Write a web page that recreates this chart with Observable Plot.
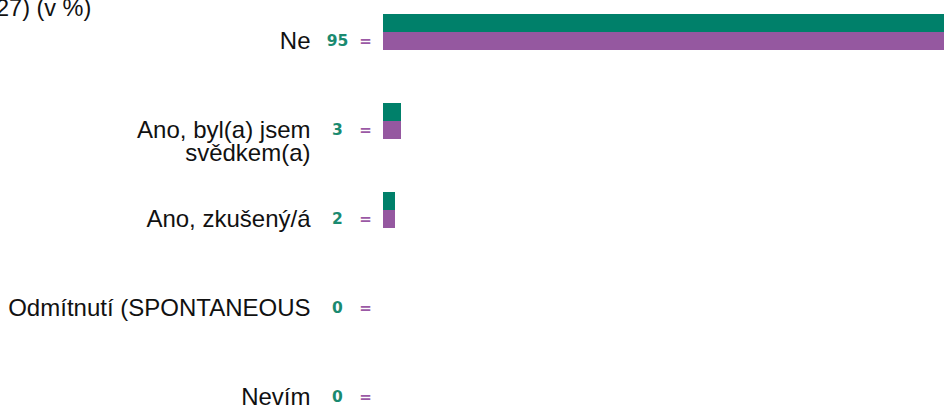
<!DOCTYPE html>
<html><head><meta charset="utf-8">
<script src="https://cdn.jsdelivr.net/npm/d3@7"></script>
<script src="https://cdn.jsdelivr.net/npm/@observablehq/plot@0.6"></script>
<style>
body{margin:0;background:#fff;overflow:hidden;}
#wrap{position:relative;width:944px;height:406px;overflow:hidden;}
#title{position:absolute;left:-4px;top:-5px;font:23.5px "Liberation Sans",Arial,sans-serif;color:#111;white-space:nowrap;z-index:2;}
</style></head><body><div id="wrap"><div id="title">27) (v %)</div></div>
<script>
const categories = ["Ne", "Ano, byl(a) jsem\nsvědkem(a)", "Ano, zkušený/á", "Odmítnutí (SPONTANEOUS", "Nevím"];
const current = [95, 3, 2, 0, 0];
const previous = [95, 3, 2, 0, 0];
const changes = ["=", "=", "=", "=", "="];

const rows = categories.map((c, i) => ({cat: c, cur: current[i], prev: previous[i], change: changes[i]}));

const chart = Plot.plot({
  width: 944, height: 406, margin: 0,
  style: {background: "transparent", overflow: "hidden"},
  x: {domain: [0, 93.5], range: [383, 944], axis: null},
  y: {type: "band", domain: categories, range: [0, 420], paddingInner: 0.7978, paddingOuter: 0.2584, align: 0.5, axis: null},
  marks: [
    Plot.barX(rows, {y: "cat", x: "cur", fill: "#00806a", dy: -9, clip: true}),
    Plot.barX(rows, {y: "cat", x: "prev", fill: "#9558a0", dy: 9, clip: true}),
    Plot.text(rows, {y: "cat", x: 0, text: "cur", dx: -46, dy: 9, fill: "#1a8a70", fontWeight: "bold", fontSize: 15.5, fontFamily: "DejaVu Sans"}),
    Plot.text(rows, {y: "cat", x: 0, text: "change", dx: -18, dy: 8.5, fill: "#9b59a6", fontWeight: "bold", fontSize: 15, fontFamily: "DejaVu Sans"}),
    Plot.text(rows, {y: "cat", x: 0, text: "cat", dx: -73, dy: -0.5, textAnchor: "end", lineAnchor: "top", lineHeight: 0.97, fontSize: 24, fontFamily: "Liberation Sans", fill: "#111"})
  ]
});
document.getElementById("wrap").appendChild(chart);
</script>
</body></html>
